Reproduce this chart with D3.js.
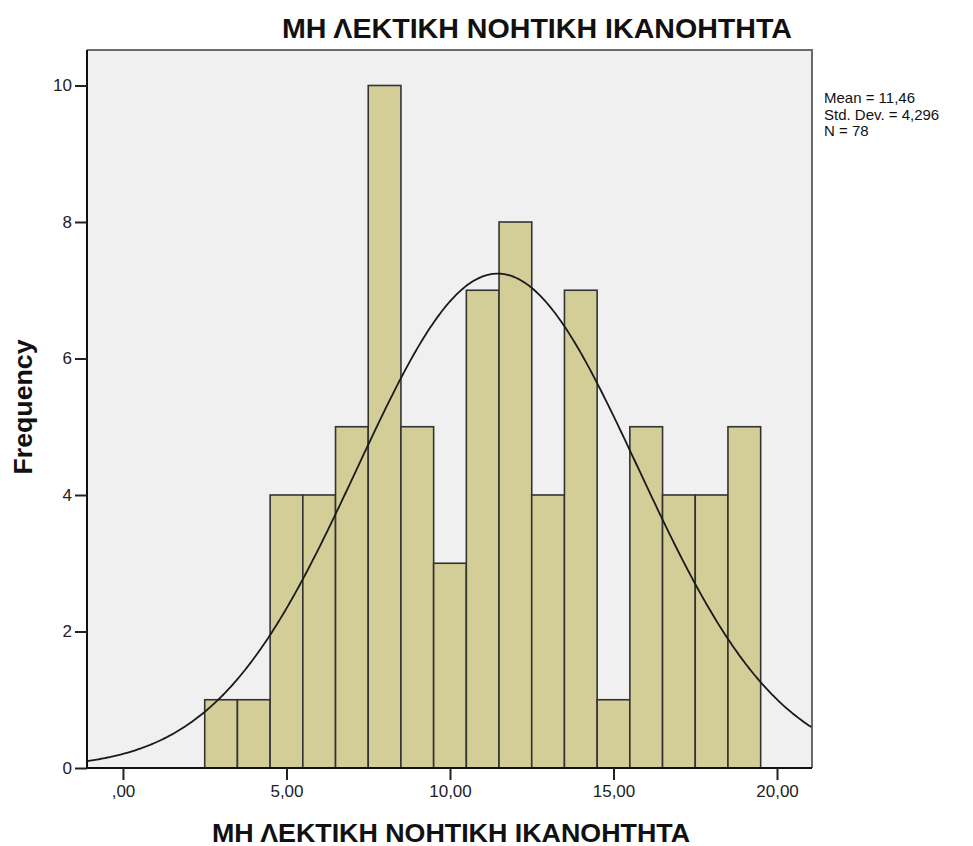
<!DOCTYPE html>
<html>
<head>
<meta charset="utf-8">
<script src="https://cdn.jsdelivr.net/npm/d3@7"></script>
<style>
  html, body { margin: 0; padding: 0; background: #fff; }
  svg { display: block; font-family: "Liberation Sans", Arial, sans-serif; }
</style>
</head>
<body>
<svg id="chart" width="973" height="846"></svg>
<script>
// Histogram of scores: bin centres and counts
const binCenters = [3, 4, 5, 6, 7, 8, 9, 10, 11, 12, 13, 14, 15, 16, 17, 18, 19];
const frequencies = [1, 1, 4, 4, 5, 10, 5, 3, 7, 8, 4, 7, 1, 5, 4, 4, 5];
const binWidth = 1;
const xTicks = [0, 5, 10, 15, 20];
const xTickLabels = [",00", "5,00", "10,00", "15,00", "20,00"];
const yTicks = [0, 2, 4, 6, 8, 10];
const stats = { mean: 11.46, sd: 4.296, n: 78 };
const statLines = ["Mean = 11,46", "Std. Dev. = 4,296", "N = 78"];
const titleText = "ΜΗ ΛΕΚΤΙΚΗ ΝΟΗΤΙΚΗ ΙΚΑΝΟΗΤΗΤΑ";
const xLabel = "ΜΗ ΛΕΚΤΙΚΗ ΝΟΗΤΙΚΗ ΙΚΑΝΟΗΤΗΤΑ";
const yLabel = "Frequency";

const svg = d3.select("#chart");
const plot = { left: 87, right: 812, top: 50, bottom: 768 };

const x = d3.scaleLinear().domain([-1.1, 21.07]).range([plot.left, plot.right]);
const y = d3.scaleLinear().domain([0, 10.52]).range([plot.bottom, plot.top]);

// plot background and frame
svg.append("rect")
  .attr("x", plot.left).attr("y", plot.top)
  .attr("width", plot.right - plot.left).attr("height", plot.bottom - plot.top)
  .attr("fill", "#f0f0f0");
svg.append("path")
  .attr("d", `M${plot.left},${plot.top}H${plot.right}V${plot.bottom}`)
  .attr("fill", "none").attr("stroke", "#6b6b6b").attr("stroke-width", 2);

// bars
svg.append("g").selectAll("rect")
  .data(binCenters.map((c, i) => ({ c, f: frequencies[i] })))
  .join("rect")
  .attr("x", d => x(d.c - binWidth / 2))
  .attr("y", d => y(d.f))
  .attr("width", d => x(d.c + binWidth / 2) - x(d.c - binWidth / 2))
  .attr("height", d => y(0) - y(d.f))
  .attr("fill", "#d3ce97")
  .attr("stroke", "#333")
  .attr("stroke-width", 1.6);

// fitted normal curve
const pdf = v => stats.n * binWidth / (stats.sd * Math.sqrt(2 * Math.PI)) *
  Math.exp(-0.5 * ((v - stats.mean) / stats.sd) ** 2);
const xs = d3.range(x.domain()[0], x.domain()[1] + 0.001, 0.05);
svg.append("path")
  .datum(xs)
  .attr("d", d3.line().x(v => x(v)).y(v => y(pdf(v))))
  .attr("fill", "none").attr("stroke", "#1a1a1a").attr("stroke-width", 1.8);

// axes
const xAxis = svg.append("g")
  .attr("transform", `translate(0,${plot.bottom})`)
  .call(d3.axisBottom(x).tickValues(xTicks).tickFormat((d, i) => xTickLabels[i])
    .tickSize(12).tickSizeOuter(0).tickPadding(5));
const yAxis = svg.append("g")
  .attr("transform", `translate(${plot.left},0)`)
  .call(d3.axisLeft(y).tickValues(yTicks).tickSize(12).tickSizeOuter(0).tickPadding(3));

[xAxis, yAxis].forEach(g => {
  g.attr("font-size", null).attr("font-family", null);
  g.select(".domain").attr("stroke", "#111").attr("stroke-width", 2);
  g.selectAll(".tick line").attr("stroke", "#222").attr("stroke-width", 2);
  g.selectAll(".tick text").attr("fill", "#222")
    .style("font-size", "17px").style("font-family", "'Liberation Sans', Arial, sans-serif");
});
xAxis.select(".domain").attr("d", `M${plot.left},0H${plot.right}`);
yAxis.select(".domain").attr("d", `M0,${plot.bottom}V${plot.top}`);

// title
svg.append("text")
  .attr("x", 537).attr("y", 38)
  .attr("text-anchor", "middle")
  .attr("textLength", 510).attr("lengthAdjust", "spacingAndGlyphs")
  .style("font-size", "27px").style("font-weight", "bold").attr("fill", "#111")
  .text(titleText);

// axis titles
svg.append("text")
  .attr("x", 451).attr("y", 842)
  .attr("text-anchor", "middle")
  .attr("textLength", 478).attr("lengthAdjust", "spacingAndGlyphs")
  .style("font-size", "25px").style("font-weight", "bold").attr("fill", "#111")
  .text(xLabel);
svg.append("text")
  .attr("transform", "translate(32,407) rotate(-90)")
  .attr("text-anchor", "middle")
  .attr("textLength", 135).attr("lengthAdjust", "spacingAndGlyphs")
  .style("font-size", "26px").style("font-weight", "bold").attr("fill", "#111")
  .text(yLabel);

// summary statistics
svg.append("g").selectAll("text")
  .data(statLines)
  .join("text")
  .attr("x", 824).attr("y", (d, i) => 103 + i * 16.5)
  .style("font-size", "15px").attr("fill", "#111")
  .text(d => d);
</script>
</body>
</html>
